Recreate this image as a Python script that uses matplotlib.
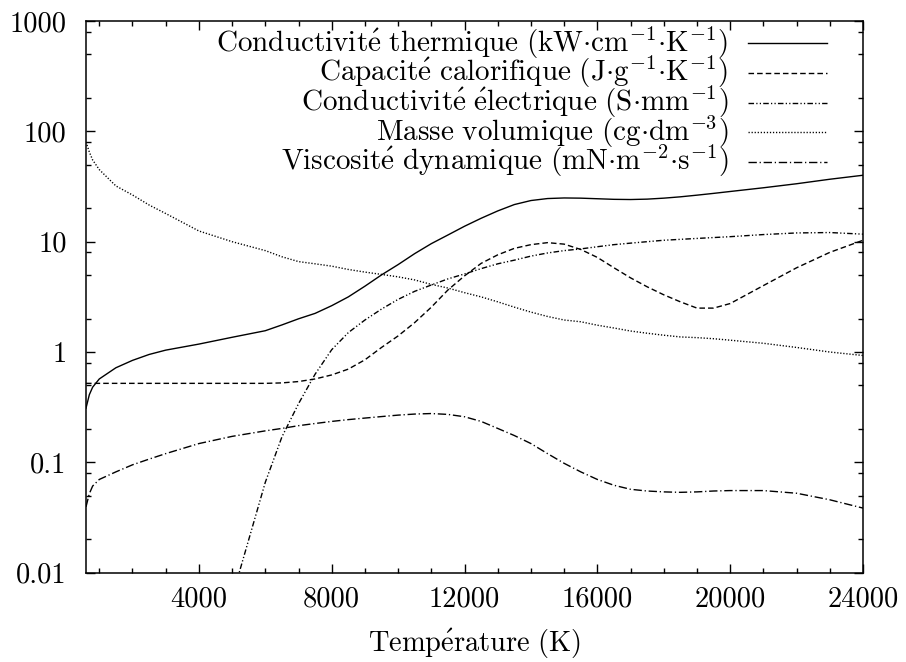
import numpy as np
import matplotlib
matplotlib.use("Agg")
import matplotlib.pyplot as plt
from matplotlib.ticker import LogLocator, MultipleLocator, NullFormatter
from matplotlib.lines import Line2D

plt.rcParams['font.family'] = ['cmr10', 'DejaVu Serif']
plt.rcParams['mathtext.fontset'] = 'cm'
plt.rcParams['axes.unicode_minus'] = False

# ---------------- data ----------------
temperature = [600, 700, 800, 1000, 1500, 2000, 2500, 3000, 4000, 5000, 6000, 6500, 7000,
               7500, 8000, 8500, 9000, 9500, 10000, 10500, 11000, 11500, 12000,
               12500, 13000, 13500, 14000, 14500, 15000, 15500, 16000, 16500,
               17000, 17500, 18000, 18500, 19000, 19500, 20000, 21000, 22000,
               23000, 24000]

cond_thermique = [0.31, 0.41, 0.48, 0.57, 0.72, 0.84, 0.95, 1.04, 1.18, 1.36, 1.56, 1.76, 2.0,
                  2.24, 2.63, 3.16, 3.95, 5.0, 6.2, 7.8, 9.6, 11.5, 13.8,
                  16.3, 19.0, 21.7, 23.6, 24.6, 24.9, 24.8, 24.5, 24.2,
                  24.1, 24.3, 24.8, 25.5, 26.4, 27.4, 28.5, 30.8, 33.5,
                  36.8, 40.0]

capacite = [0.52, 0.52, 0.52, 0.52, 0.52, 0.52, 0.52, 0.52, 0.52, 0.52, 0.52, 0.525, 0.54,
            0.57, 0.62, 0.7, 0.85, 1.1, 1.4, 1.85, 2.55, 3.65, 4.9,
            6.36, 7.6, 8.7, 9.4, 9.8, 9.5, 8.5, 7.2, 5.8,
            4.7, 3.9, 3.3, 2.85, 2.5, 2.5, 2.75, 4.0, 5.8,
            8.0, 10.3]

cond_electrique = [np.nan, np.nan, np.nan, np.nan, np.nan, np.nan, np.nan, np.nan, np.nan, 0.006, 0.066, 0.17, 0.34,
                   0.63, 1.05, 1.5, 1.95, 2.45, 3.0, 3.55, 4.05, 4.6, 5.1,
                   5.7, 6.3, 6.8, 7.4, 7.9, 8.3, 8.6, 9.0, 9.4,
                   9.7, 10.0, 10.3, 10.5, 10.7, 10.9, 11.1, 11.6, 12.0,
                   12.1, 11.7]

masse_vol = [80, 65, 55, 45, 32, 26.5, 21.5, 18, 12.5, 10.0, 8.3, 7.3, 6.6,
             6.3, 6.0, 5.6, 5.3, 5.05, 4.8, 4.5, 4.1, 3.8, 3.45,
             3.16, 2.85, 2.55, 2.3, 2.1, 1.95, 1.88, 1.75, 1.65,
             1.55, 1.48, 1.42, 1.37, 1.35, 1.32, 1.28, 1.2, 1.1,
             1.0, 0.93]

viscosite = [0.0395, 0.052, 0.061, 0.07, 0.082, 0.095, 0.107, 0.12, 0.148, 0.172, 0.193, 0.203, 0.215,
             0.225, 0.235, 0.244, 0.252, 0.26, 0.268, 0.274, 0.277, 0.272, 0.259,
             0.235, 0.203, 0.175, 0.148, 0.12, 0.098, 0.082, 0.07, 0.062,
             0.057, 0.055, 0.054, 0.0535, 0.054, 0.055, 0.0555, 0.0555, 0.0525,
             0.0458, 0.0385]

labels = [
    r"$\mathrm{Conductivit\acute{e}\ thermique\ (kW{\cdot}cm^{-1}{\cdot}K^{-1})}$",
    r"$\mathrm{Capacit\acute{e}\ calorifique\ (J{\cdot}g^{-1}{\cdot}K^{-1})}$",
    r"$\mathrm{Conductivit\acute{e}\ \acute{e}lectrique\ (S{\cdot}mm^{-1})}$",
    r"$\mathrm{Masse\ volumique\ (cg{\cdot}dm^{-3})}$",
    r"$\mathrm{Viscosit\acute{e}\ dynamique\ (mN{\cdot}m^{-2}{\cdot}s^{-1})}$",
]
series = [cond_thermique, capacite, cond_electrique, masse_vol, viscosite]
styles = ['-', (0, (4.0, 2.2)), (0, (4.0, 1.6, 0.9, 1.6, 0.9, 1.6)), (0, (0.9, 1.3)), (0, (6.0, 2.0, 0.9, 2.0))]

xticks = [4000, 8000, 12000, 16000, 20000, 24000]
yticks = [0.01, 0.1, 1, 10, 100, 1000]
ytick_labels = ['0.01', '0.1', '1', '10', '100', '1000']

FS = 20.5
FS_LEG = 21

# ---------------- figure ----------------
W, H = 906, 662
fig = plt.figure(figsize=(W / 100, H / 100), dpi=100)
L, R, T, B = 86, 863, 21, 572.7
ax = fig.add_axes([L / W, 1 - B / H, (R - L) / W, (B - T) / H])

for vals, ls in zip(series, styles):
    ax.plot(temperature, vals, color='black', lw=1.0, linestyle=ls)

ax.set_yscale('log')
ax.set_xlim(600, 24000)
ax.set_ylim(0.01, 1000)

ax.set_xticks(xticks, [str(v) for v in xticks])
ax.xaxis.set_minor_locator(MultipleLocator(1000))
ax.set_yticks(yticks, ytick_labels)
ax.yaxis.set_minor_locator(LogLocator(base=10, subs=[2, 5, 8]))
ax.yaxis.set_minor_formatter(NullFormatter())

ax.tick_params(which='both', direction='in', top=True, right=True, width=1.0, color='black')
ax.tick_params(which='major', length=6.5, labelsize=FS)
ax.tick_params(which='minor', length=3.5)
ax.tick_params(axis='y', which='major', pad=14)
ax.tick_params(axis='x', which='major', pad=10)
for s in ax.spines.values():
    s.set_linewidth(1.1)

ax.set_xlabel(r"$\mathrm{Temp\acute{e}rature\ (K)}$", fontsize=FS, labelpad=10)

# manual gnuplot-style legend (text right-aligned, sample line to the right)
ax_w, ax_h = R - L, B - T
x_text = (728 - L) / ax_w
x0, x1 = (748 - L) / ax_w, (827 - L) / ax_w
for i, (lab, ls) in enumerate(zip(labels, styles)):
    yc = 43.3 + i * 29.6
    ya = (B - yc) / ax_h
    ax.add_line(Line2D([x0, x1], [ya, ya], transform=ax.transAxes, color='black', lw=1.0, linestyle=ls))
    ax.text(x_text, (B - yc - 8.4) / ax_h, lab, transform=ax.transAxes, ha='right', va='baseline',
            fontsize=FS_LEG)

fig.savefig('out.png', dpi=100)
